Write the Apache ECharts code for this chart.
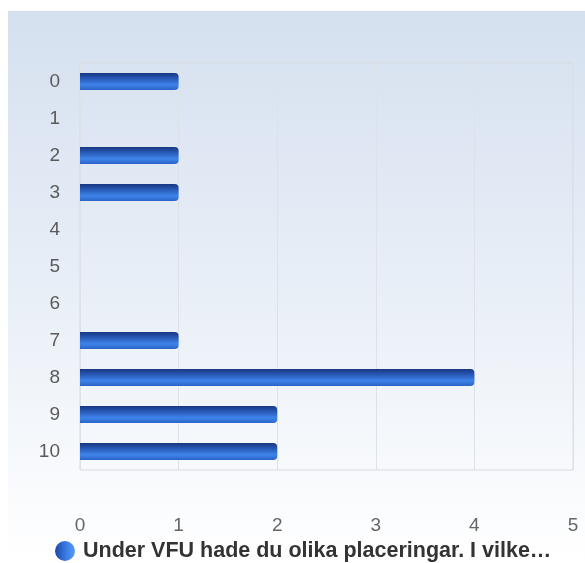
<!DOCTYPE html>
<html><head><meta charset="utf-8">
<script src="https://cdn.jsdelivr.net/npm/echarts@6/dist/echarts.min.js"></script>
<style>
html,body{margin:0;padding:0;background:#fff;}
#bg{position:absolute;left:8px;top:11px;width:577px;height:552px;background:linear-gradient(to bottom,#d5e0ef 0%,#e6edf6 45%,#ffffff 100%);}
#c{position:absolute;left:0;top:0;width:585px;height:563px;}
</style></head>
<body>
<div id="bg"></div>
<div id="c"></div>
<script>
const categories = ['0','1','2','3','4','5','6','7','8','9','10'];
const values = [1, 0, 1, 1, 0, 0, 0, 1, 4, 2, 2];
const xTicks = [0, 1, 2, 3, 4, 5];
const seriesName = 'Under VFU hade du olika placeringar. I vilke…';

const chart = echarts.init(document.getElementById('c'), null, {renderer:'canvas'});
const barGrad = new echarts.graphic.LinearGradient(0,0,0,1,[
  {offset:0, color:'#17377f'},
  {offset:0.3, color:'#2656b3'},
  {offset:0.7, color:'#3e84ea'},
  {offset:1, color:'#2b63c6'}
]);
const iconGrad = new echarts.graphic.LinearGradient(0,0,1,0,[
  {offset:0, color:'#1d46a8'},
  {offset:0.6, color:'#3d80e8'},
  {offset:1, color:'#5a9af5'}
]);
chart.setOption({
  animation:false,
  backgroundColor:'transparent',
  textStyle:{fontFamily:'Liberation Sans, Arial, sans-serif'},
  grid:{left:80, right:12, top:63, bottom:93, show:true, borderColor:'#d6dbe2', borderWidth:1, backgroundColor:'transparent'},
  xAxis:{
    type:'value', min:xTicks[0], max:xTicks[xTicks.length-1], interval:1,
    axisLine:{show:false}, axisTick:{show:false},
    splitLine:{show:true, lineStyle:{color:'#dde2e8', width:1}},
    axisLabel:{color:'#666', fontSize:19, margin:46}
  },
  yAxis:{
    type:'category', data:categories, inverse:true,
    axisLine:{show:false}, axisTick:{show:false},
    axisLabel:{color:'#5a5a5a', fontSize:19, margin:20},
    splitLine:{show:false}
  },
  legend:{
    bottom:1, left:55,
    icon:'circle', itemWidth:20, itemHeight:20, itemGap:10, padding:0,
    textStyle:{color:'#333', fontSize:21.5, fontWeight:'bold', padding:[0,0,0,3], fontFamily:'Liberation Sans, Arial, sans-serif'},
    data:[{name:seriesName, itemStyle:{color:iconGrad}}]
  },
  series:[{
    name:seriesName, type:'bar', data:values, barWidth:17,
    itemStyle:{color:barGrad, borderRadius:[0,4,4,0]}
  }]
});
</script>
</body></html>
